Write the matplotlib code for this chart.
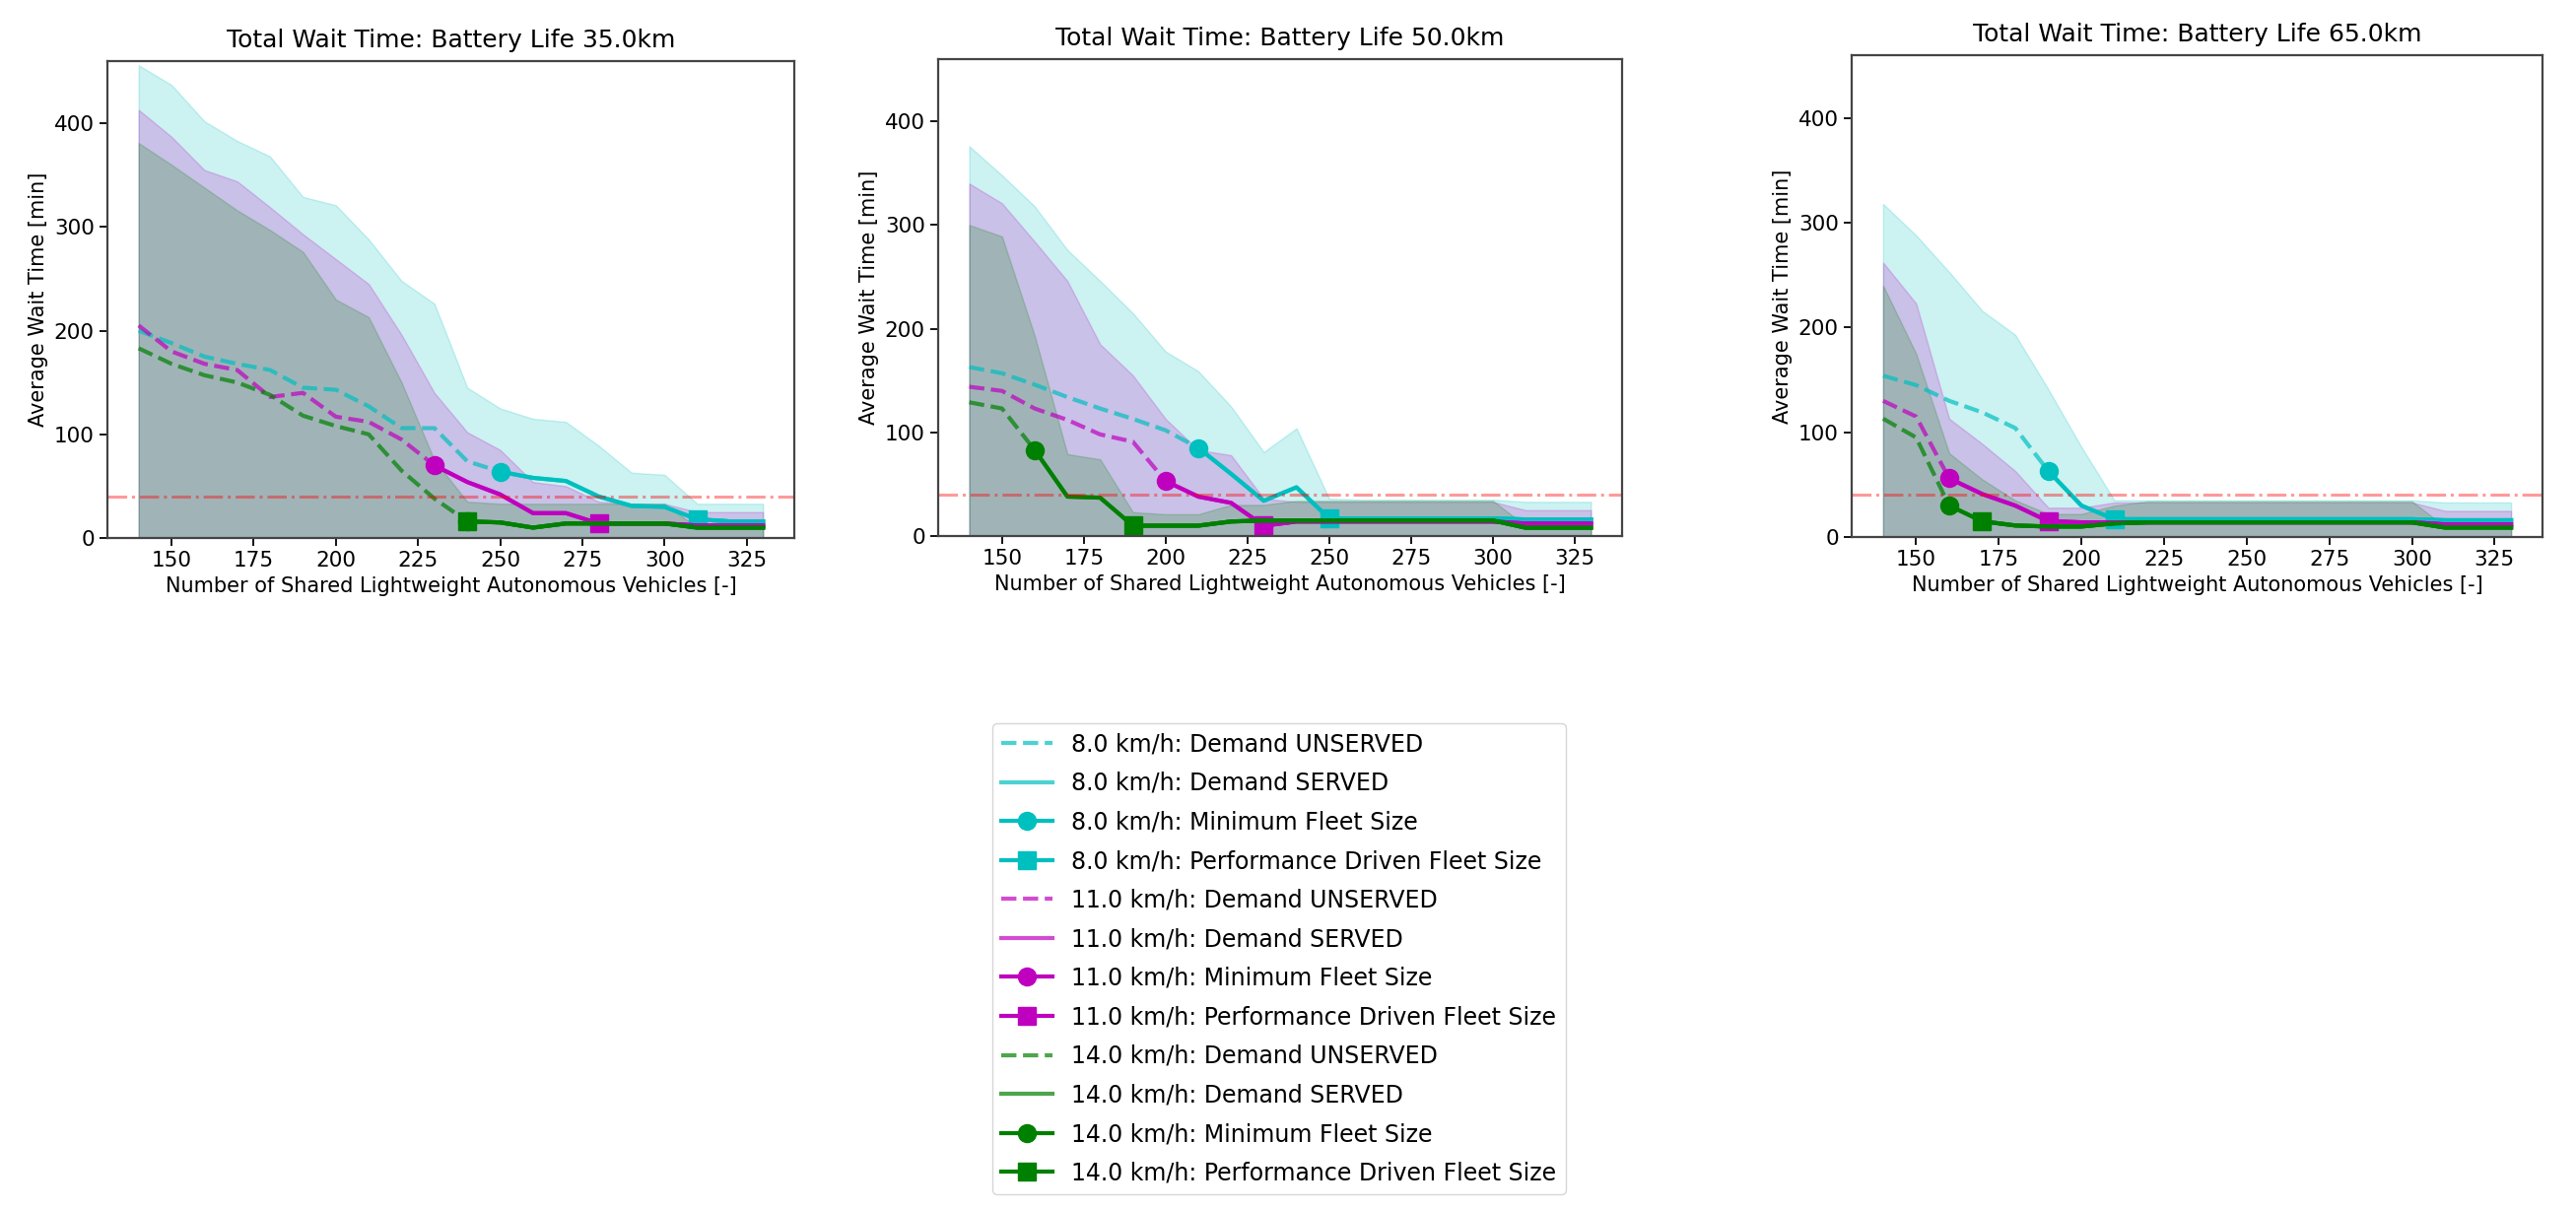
import numpy as np
import matplotlib
matplotlib.use('Agg')
from matplotlib import pyplot as plt

# numero de vehiculos
fleet = [140, 150, 160, 170, 180, 190, 200, 210, 220, 230,
         240, 250, 260, 270, 280, 290, 300, 310, 320, 330]

battery = [35.0, 50.0, 65.0]
speeds = [8.0, 11.0, 14.0]
colors = ['c', 'm', 'g']
threshold = 40

# tiempo de espera medio (una lista por velocidad y bateria)
wait_35_8 = [200, 188, 175, 168, 162, 145, 143, 127, 106, 106, 74, 64, 58, 55, 40, 31, 30, 18, 16, 16]
wait_35_11 = [205, 180, 168, 162, 136, 140, 117, 112, 95, 70, 54, 42, 24, 24, 14, 14, 14, 12, 12, 12]
wait_35_14 = [183, 168, 157, 150, 138, 118, 108, 100, 65, 38, 16, 15, 10, 14, 14, 14, 14, 10, 10, 10]

wait_50_8 = [163, 157, 146, 134, 123, 113, 102, 85, 60, 34, 47, 17, 17, 17, 17, 17, 17, 16, 16, 16]
wait_50_11 = [144, 140, 123, 112, 98, 91, 53, 38, 32, 10, 14, 14, 14, 14, 14, 14, 14, 12, 12, 12]
wait_50_14 = [129, 123, 83, 38, 37, 10, 10, 10, 14, 15, 15, 15, 15, 15, 15, 15, 15, 8, 8, 8]

wait_65_8 = [154, 145, 130, 119, 104, 63, 30, 17, 17, 17, 17, 17, 17, 17, 17, 17, 17, 16, 16, 16]
wait_65_11 = [130, 115, 56, 41, 30, 15, 14, 14, 14, 14, 14, 14, 14, 14, 14, 14, 14, 12, 12, 12]
wait_65_14 = [113, 95, 30, 15, 11, 10, 10, 13, 14, 14, 14, 14, 14, 14, 14, 14, 14, 9, 9, 9]

# limite superior de la banda
upper_35_8 = [456, 437, 402, 383, 368, 329, 321, 288, 248, 226, 145, 125, 115, 112, 89, 63, 61, 33, 33, 33]
upper_35_11 = [413, 387, 355, 344, 319, 293, 269, 245, 196, 140, 102, 85, 54, 50, 35, 33, 33, 25, 25, 25]
upper_35_14 = [381, 360, 338, 316, 297, 276, 230, 213, 150, 75, 35, 33, 33, 33, 33, 33, 33, 10, 10, 10]

upper_50_8 = [376, 348, 318, 276, 246, 215, 178, 159, 125, 81, 104, 36, 35, 35, 35, 35, 35, 33, 33, 33]
upper_50_11 = [340, 321, 284, 246, 185, 155, 113, 83, 78, 36, 33, 33, 33, 33, 33, 33, 33, 25, 25, 25]
upper_50_14 = [300, 289, 193, 79, 74, 23, 21, 21, 30, 30, 34, 34, 34, 34, 34, 34, 34, 10, 10, 10]

upper_65_8 = [318, 288, 253, 216, 193, 141, 86, 35, 35, 35, 35, 35, 35, 35, 35, 35, 35, 33, 33, 33]
upper_65_11 = [262, 223, 113, 89, 63, 28, 28, 33, 33, 33, 33, 33, 33, 33, 33, 33, 33, 25, 25, 25]
upper_65_14 = [240, 175, 80, 55, 35, 22, 22, 30, 34, 34, 34, 34, 34, 34, 34, 34, 34, 10, 10, 10]

# tamano minimo de flota y flota por rendimiento
min_fleet = {35.0: [250, 230, 240], 50.0: [210, 200, 160], 65.0: [190, 160, 160]}
perf_fleet = {35.0: [310, 280, 240], 50.0: [250, 230, 190], 65.0: [210, 190, 170]}

waits = {35.0: [wait_35_8, wait_35_11, wait_35_14],
         50.0: [wait_50_8, wait_50_11, wait_50_14],
         65.0: [wait_65_8, wait_65_11, wait_65_14]}
uppers = {35.0: [upper_35_8, upper_35_11, upper_35_14],
          50.0: [upper_50_8, upper_50_11, upper_50_14],
          65.0: [upper_65_8, upper_65_11, upper_65_14]}

W, H = 2614, 1228
fig = plt.figure(figsize=(W / 100, H / 100), dpi=100)

# posiciones de los ejes en pixeles (izq, der, arriba, abajo)
boxes = [(109, 806, 62, 546), (952, 1646, 60, 544), (1879, 2580, 56, 545)]

x = np.array(fleet)
handles = []
for k, bat in enumerate(battery):
    l, r, t, b = boxes[k]
    ax = fig.add_axes([l / W, 1 - b / H, (r - l) / W, (b - t) / H])

    for i, spd in enumerate(speeds):
        c = colors[i]
        y = np.array(waits[bat][i])
        up = np.array(uppers[bat][i])
        ax.fill_between(x, 0, up, color=c, alpha=0.2)

        mf = min_fleet[bat][i]
        pf = perf_fleet[bat][i]
        un = x <= mf
        se = x >= mf
        pe = x >= pf
        h1, = ax.plot(x[un], y[un], '--', color=c, alpha=0.7, lw=3,
                      label=f'{spd} km/h: Demand UNSERVED')
        h2, = ax.plot(x[se], y[se], '-', color=c, alpha=0.7, lw=3,
                      label=f'{spd} km/h: Demand SERVED')
        h3, = ax.plot(x[se], y[se], '-', color=c, lw=3, marker='o', markersize=13,
                      markevery=[0], label=f'{spd} km/h: Minimum Fleet Size')
        h4, = ax.plot(x[pe], y[pe], '-', color=c, lw=3, marker='s', markersize=13,
                      markevery=[0], label=f'{spd} km/h: Performance Driven Fleet Size')
        if k == 0:
            handles += [h1, h2, h3, h4]

    ax.axhline(threshold, color='red', alpha=0.4, linestyle='-.', lw=2.2)
    ax.set_ylim(0, 460)
    ax.set_xticks([150, 175, 200, 225, 250, 275, 300, 325])
    ax.set_yticks([0, 100, 200, 300, 400])
    ax.tick_params(labelsize=15.5, length=6, width=1.3)
    for s in ax.spines.values():
        s.set_linewidth(1.6)
        s.set_color('#444444')
    ax.set_title(f'Total Wait Time: Battery Life {bat}km', fontsize=18, pad=10)
    ax.set_xlabel('Number of Shared Lightweight Autonomous Vehicles [-]', fontsize=15)
    ax.set_ylabel('Average Wait Time [min]', fontsize=15)

fig.legend(handles=handles, loc='upper left', bbox_to_anchor=(995 / W, 1 - 722 / H),
           fontsize=17, handlelength=2.2, labelspacing=0.66)

fig.savefig('out.png', dpi=100)
